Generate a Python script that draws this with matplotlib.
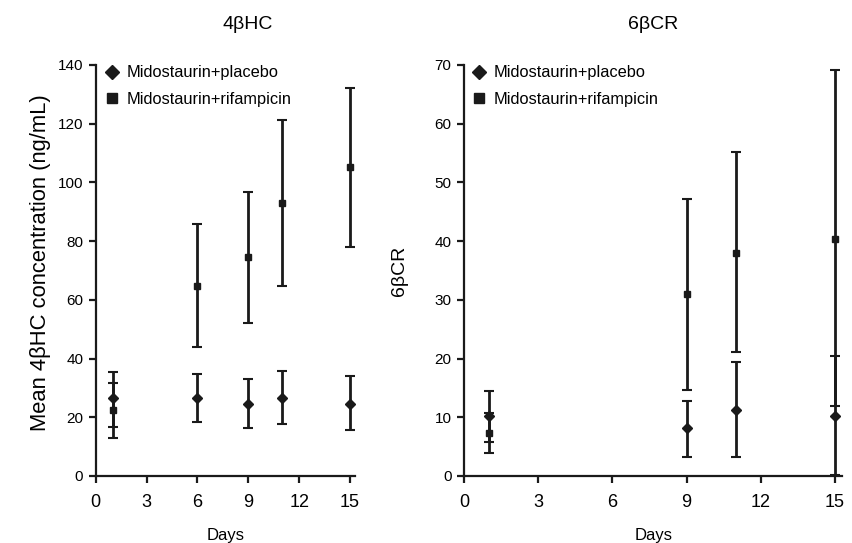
import matplotlib
matplotlib.use("Agg")
import matplotlib.pyplot as plt
import numpy as np
from matplotlib.lines import Line2D

# 4bHC (ng/mL)
days_hc = [1, 6, 9, 11, 15]
hc_plac_mean = [26.5, 26.5, 24.5, 26.6, 24.5]
hc_plac_lo = [16.8, 18.3, 16.2, 17.7, 15.7]
hc_plac_hi = [35.3, 34.7, 32.9, 35.7, 34.0]
hc_rif_mean = [22.5, 64.8, 74.5, 93.1, 105.3]
hc_rif_lo = [13.0, 43.9, 52.2, 64.7, 77.9]
hc_rif_hi = [31.8, 85.8, 96.6, 121.3, 132.3]

# 6bCR
days_cr = [1, 9, 11, 15]
cr_plac_mean = [10.2, 8.1, 11.3, 10.3]
cr_plac_lo = [5.8, 3.2, 3.2, 0.2]
cr_plac_hi = [14.5, 12.8, 19.4, 20.5]
cr_rif_mean = [7.4, 31.0, 38.0, 40.4]
cr_rif_lo = [4.0, 14.7, 21.1, 12.0]
cr_rif_hi = [10.7, 47.1, 55.1, 69.1]

xticks = [0, 3, 6, 9, 12, 15]
series_labels = ["Midostaurin+placebo", "Midostaurin+rifampicin"]

plt.rcParams["font.family"] = ["Liberation Sans", "DejaVu Sans"]

ink = "#1a1a1a"

fig = plt.figure(figsize=(8.53, 5.43), dpi=100)
ax1 = fig.add_axes([0.1123, 0.1234, 0.304, 0.757])
ax2 = fig.add_axes([0.544, 0.1234, 0.4436, 0.757])


def draw(ax, days, pm, plo, phi, rm, rlo, rhi, legx):
    pm, plo, phi = np.array(pm), np.array(plo), np.array(phi)
    rm, rlo, rhi = np.array(rm), np.array(rlo), np.array(rhi)
    ax.errorbar(days, pm, yerr=[pm - plo, phi - pm], fmt="D", ms=5, color=ink,
                ecolor=ink, elinewidth=2, capsize=3.5, capthick=1.5, zorder=3)
    ax.errorbar(days, rm, yerr=[rm - rlo, rhi - rm], fmt="s", ms=5, color=ink,
                ecolor=ink, elinewidth=2, capsize=3.5, capthick=1.5, zorder=3)
    for s in ["top", "right"]:
        ax.spines[s].set_visible(False)
    for s in ["left", "bottom"]:
        ax.spines[s].set_linewidth(1.6)
        ax.spines[s].set_color(ink)
    ax.set_xlim(0, 15.3)
    ax.set_xticks(xticks)
    ax.tick_params(axis="x", direction="out", length=5, width=1.6, color=ink,
                   labelsize=13, pad=8)
    ax.tick_params(axis="y", direction="out", length=5, width=1.6, color=ink,
                   labelsize=11, pad=4)
    ax.set_xlabel("Days", fontsize=12, labelpad=12)
    handles = [Line2D([], [], ls="none", marker="D", ms=7, color=ink),
               Line2D([], [], ls="none", marker="s", ms=6.5, color=ink)]
    ax.legend(handles, series_labels, loc="upper left", frameon=False, fontsize=11.8,
              handlelength=0.8, handletextpad=0.5, labelspacing=0.7,
              borderaxespad=0.0, bbox_to_anchor=(legx, 1.015))


draw(ax1, days_hc, hc_plac_mean, hc_plac_lo, hc_plac_hi, hc_rif_mean, hc_rif_lo, hc_rif_hi, 0.012)
ax1.set_ylim(0, 140)
ax1.set_yticks(np.arange(0, 141, 20))
ax1.set_ylabel("Mean 4\u03b2HC concentration (ng/mL)", fontsize=15.8, labelpad=5)
ax1.yaxis.label.set_y(0.518)
ax1.set_title("4\u03b2HC", fontsize=14, pad=26, x=0.587)

draw(ax2, days_cr, cr_plac_mean, cr_plac_lo, cr_plac_hi, cr_rif_mean, cr_rif_lo, cr_rif_hi, 0.005)
ax2.set_ylim(0, 70)
ax2.set_yticks(np.arange(0, 71, 10))
ax2.set_ylabel("6\u03b2CR", fontsize=14, labelpad=19)
ax2.set_title("6\u03b2CR", fontsize=14, pad=26)

fig.savefig("out.png", dpi=100)
